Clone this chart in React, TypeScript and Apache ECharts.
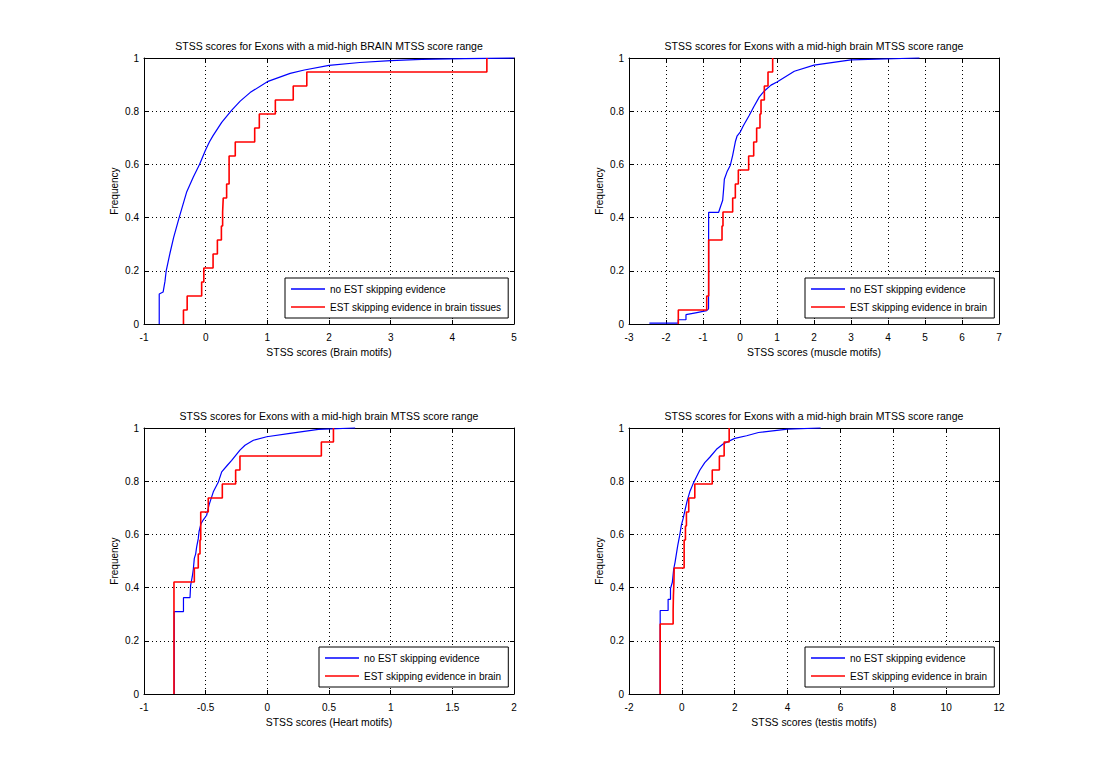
import React, { useEffect, useRef } from "react";
import * as echarts from "echarts";

const FONT = "'Liberation Sans', Arial, Helvetica, sans-serif";

const BLUE_NAME = "no EST skipping evidence";
const RED_NAME_TL = "EST skipping evidence in brain tissues";
const RED_NAME = "EST skipping evidence in brain";

const titles = [
  "STSS scores for Exons with a mid-high BRAIN MTSS score range",
  "STSS scores for Exons with a mid-high brain MTSS score range",
  "STSS scores for Exons with a mid-high brain MTSS score range",
  "STSS scores for Exons with a mid-high brain MTSS score range",
];
const xNames = [
  "STSS scores (Brain motifs)",
  "STSS scores (muscle motifs)",
  "STSS scores (Heart motifs)",
  "STSS scores (testis motifs)",
];
const xMins = [-1, -3, -1, -2];
const xMaxs = [5, 7, 2, 12];
const xIntervals = [1, 1, 0.5, 2];
const yTicks = [0, 0.2, 0.4, 0.6, 0.8, 1];

// Top-left (Brain motifs)
const tlBlueX = [-0.753, -0.753, -0.69, -0.66, -0.64, -0.58, -0.52, -0.43, -0.31, -0.2, -0.1, 0, 0.06, 0.12, 0.26, 0.42, 0.56, 0.72, 1.0, 1.37, 1.6, 2.0, 2.5, 3.0, 3.5, 4.2, 5.0];
const tlBlueY = [0, 0.113, 0.12, 0.16, 0.2, 0.265, 0.325, 0.4, 0.495, 0.553, 0.6, 0.655, 0.684, 0.708, 0.758, 0.803, 0.838, 0.87, 0.911, 0.942, 0.955, 0.972, 0.983, 0.99, 0.995, 0.998, 1.0];
const tlRed = [-0.36, -0.3, -0.065, -0.03, 0.12, 0.19, 0.255, 0.275, 0.285, 0.34, 0.38, 0.38, 0.48, 0.795, 0.87, 1.13, 1.42, 1.64, 4.56];

// Top-right (muscle motifs)
const trBlueX = [-2.45, -1.67, -1.67, -1.46, -1.46, -1.2, -0.9, -0.85, -0.847, -0.577, -0.53, -0.468, -0.441, -0.423, -0.351, -0.261, -0.198, -0.126, -0.081, 0, 0.09, 0.252, 0.369, 0.523, 0.658, 0.838, 1.0, 1.468, 2.0, 3.0, 4.85];
const trBlueY = [0.003, 0.003, 0.016, 0.016, 0.035, 0.042, 0.05, 0.057, 0.42, 0.42, 0.44, 0.465, 0.51, 0.544, 0.572, 0.597, 0.634, 0.685, 0.706, 0.72, 0.745, 0.785, 0.816, 0.854, 0.876, 0.898, 0.91, 0.95, 0.973, 0.993, 1.0];
const trRed = [-1.667, -0.9, -0.847, -0.847, -0.847, -0.847, -0.486, -0.46, -0.198, -0.126, -0.045, 0.234, 0.37, 0.45, 0.54, 0.568, 0.658, 0.757, 0.883];

// Bottom-left (Heart motifs)
const blBlueX = [-0.755, -0.755, -0.68, -0.68, -0.627, -0.622, -0.609, -0.6, -0.592, -0.581, -0.573, -0.56, -0.554, -0.538, -0.519, -0.492, -0.473, -0.438, -0.397, -0.37, -0.324, -0.289, -0.222, -0.181, -0.113, -0.005, 0.184, 0.414, 0.712];
const blBlueY = [0, 0.31, 0.31, 0.362, 0.362, 0.408, 0.44, 0.47, 0.51, 0.527, 0.553, 0.584, 0.61, 0.64, 0.655, 0.672, 0.71, 0.76, 0.797, 0.835, 0.86, 0.878, 0.917, 0.935, 0.954, 0.967, 0.98, 0.995, 1.0];
const blRed = [-0.757, -0.757, -0.757, -0.757, -0.757, -0.757, -0.757, -0.757, -0.592, -0.56, -0.546, -0.54, -0.54, -0.479, -0.365, -0.257, -0.222, 0.438, 0.536];

// Bottom-right (testis motifs)
const brBlueX = [-0.82, -0.82, -0.52, -0.52, -0.43, -0.43, -0.36, -0.31, -0.256, -0.205, -0.155, -0.08, -0.02, 0.047, 0.11, 0.198, 0.3, 0.425, 0.55, 0.678, 0.867, 1.057, 1.31, 1.56, 2.0, 2.45, 2.9, 4.0, 5.25];
const brBlueY = [0, 0.314, 0.314, 0.356, 0.356, 0.396, 0.42, 0.469, 0.496, 0.528, 0.559, 0.597, 0.634, 0.659, 0.687, 0.725, 0.76, 0.79, 0.816, 0.841, 0.87, 0.89, 0.92, 0.94, 0.961, 0.971, 0.983, 0.996, 1.0];
const brRed = [-0.82, -0.82, -0.82, -0.82, -0.82, -0.33, -0.32, -0.3, -0.29, 0.086, 0.086, 0.136, 0.173, 0.26, 0.49, 1.15, 1.42, 1.6, 1.79];

const blueXs = [tlBlueX, trBlueX, blBlueX, brBlueX];
const blueYs = [tlBlueY, trBlueY, blBlueY, brBlueY];
const reds = [tlRed, trRed, blRed, brRed];
const redNames = [RED_NAME_TL, RED_NAME, RED_NAME, RED_NAME];

// layout (pixels)
const gridLefts = [144, 629, 144, 629];
const gridTops = [58, 58, 428, 428];
const GRID_W = 370;
const GRID_H = 266;
const legendLefts = [285, 805, 319, 805];
const legendTops = [278, 278, 647, 647];

function ecdf(samples: number[]): [number, number][] {
  const s = [...samples].sort((a, b) => a - b);
  const pts: [number, number][] = [[s[0], 0]];
  s.forEach((v, i) => pts.push([v, (i + 1) / s.length]));
  return pts;
}

function zip(xs: number[], ys: number[]): [number, number][] {
  return xs.map((x, i) => [x, ys[i]]);
}

export default function App() {
  const ref = useRef<HTMLDivElement>(null);
  useEffect(() => {
    if (!ref.current) return;
    const chart = echarts.init(ref.current, null, { renderer: "svg", width: 1104, height: 779 });
    const black = "#000";
    const grids: any[] = [];
    const xAxes: any[] = [];
    const yAxes: any[] = [];
    const series: any[] = [];
    const legends: any[] = [];
    const graphics: any[] = [];
    for (let p = 0; p < 4; p++) {
      grids.push({ left: gridLefts[p], top: gridTops[p], width: GRID_W, height: GRID_H, containLabel: false });
      const common = {
        type: "value",
        gridIndex: p,
        min: xMins[p],
        max: xMaxs[p],
        interval: xIntervals[p],
        axisLine: { show: true, onZero: false, lineStyle: { color: black, width: 1 } },
        axisTick: { show: true, inside: true, length: 4, lineStyle: { color: black } },
      };
      xAxes.push({
        ...common,
        position: "bottom",
        axisLabel: { color: black, fontSize: 10, fontFamily: FONT, margin: 8 },
        splitLine: { show: true, lineStyle: { color: black, type: [1, 3], width: 1 } },
        name: xNames[p],
        nameLocation: "middle",
        nameGap: 23,
        nameTextStyle: { color: black, fontSize: 10.4, fontFamily: FONT },
      });
      xAxes.push({
        ...common,
        position: "top",
        axisLabel: { show: false },
        splitLine: { show: false },
      });
      const ycommon = {
        type: "value",
        gridIndex: p,
        min: yTicks[0],
        max: yTicks[yTicks.length - 1],
        interval: 0.2,
        axisLine: { show: true, onZero: false, lineStyle: { color: black, width: 1 } },
        axisTick: { show: true, inside: true, length: 4, lineStyle: { color: black } },
      };
      yAxes.push({
        ...ycommon,
        position: "left",
        axisLabel: { color: black, fontSize: 10, fontFamily: FONT, margin: 5 },
        splitLine: { show: true, lineStyle: { color: black, type: [1, 3], width: 1 } },
        name: "Frequency",
        nameLocation: "middle",
        nameGap: 25,
        nameTextStyle: { color: black, fontSize: 10, fontFamily: FONT },
      });
      yAxes.push({
        ...ycommon,
        position: "right",
        axisLabel: { show: false },
        splitLine: { show: false },
      });
      series.push({
        type: "line",
        name: BLUE_NAME,
        xAxisIndex: 2 * p,
        yAxisIndex: 2 * p,
        data: zip(blueXs[p], blueYs[p]),
        showSymbol: false,
        symbol: "none",
        clip: false,
        lineStyle: { color: "#0000ff", width: 1.2 },
        itemStyle: { color: "#0000ff" },
        z: 3,
      });
      series.push({
        type: "line",
        name: redNames[p],
        xAxisIndex: 2 * p,
        yAxisIndex: 2 * p,
        step: "end",
        data: ecdf(reds[p]),
        showSymbol: false,
        symbol: "none",
        clip: false,
        lineStyle: { color: "#ff0000", width: 1.6 },
        itemStyle: { color: "#ff0000" },
        z: 4,
      });
      legends.push({
        data: [BLUE_NAME, redNames[p]],
        orient: "vertical",
        left: legendLefts[p],
        top: legendTops[p],
        padding: [5, 7, 5, 6],
        itemGap: 6,
        itemWidth: 34,
        itemHeight: 1.6,
        icon: "rect",
        backgroundColor: "#fff",
        borderColor: black,
        borderWidth: 1,
        borderRadius: 0,
        selectedMode: false,
        textStyle: { color: black, fontSize: 10, fontFamily: FONT, lineHeight: 12 },
      });
      graphics.push({
        type: "text",
        x: gridLefts[p] + GRID_W / 2,
        y: gridTops[p] - 12.5,
        style: {
          text: titles[p],
          fill: black,
          fontSize: 10.5,
          fontFamily: FONT,
          align: "center",
          verticalAlign: "middle",
        },
      });
    }
    chart.setOption({
      animation: false,
      backgroundColor: "#fff",
      grid: grids,
      xAxis: xAxes,
      yAxis: yAxes,
      series,
      legend: legends,
      graphic: graphics,
    });
    return () => chart.dispose();
  }, []);
  return (
    <div
      ref={ref}
      style={{ position: "fixed", left: 0, top: 0, width: 1104, height: 779, background: "#fff" }}
    />
  );
}
